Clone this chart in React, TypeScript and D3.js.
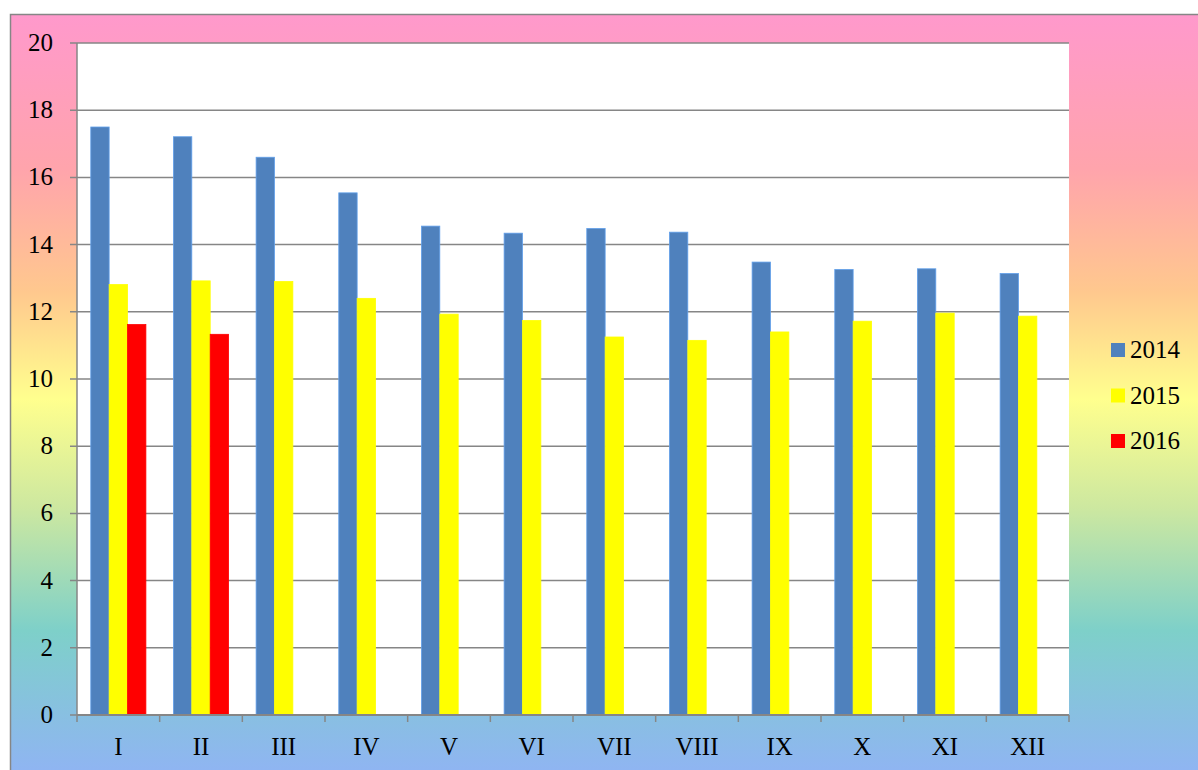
import React from 'react';
import * as d3 from 'd3';

const months = ['I', 'II', 'III', 'IV', 'V', 'VI', 'VII', 'VIII', 'IX', 'X', 'XI', 'XII'];
const years = ['2014', '2015', '2016'];
const values2014 = [17.5, 17.21, 16.6, 15.54, 14.55, 14.34, 14.48, 14.37, 13.48, 13.26, 13.28, 13.14];
const values2015 = [12.81, 12.92, 12.9, 12.4, 11.93, 11.74, 11.25, 11.15, 11.4, 11.72, 11.96, 11.87];
const values2016 = [11.62, 11.33];
const yTicks = [0, 2, 4, 6, 8, 10, 12, 14, 16, 18, 20];
const colors = ['#4F81BD', '#FFFF00', '#FF0000'];

export default function App() {
  const W = 1198, H = 770;
  const plot = { left: 77, top: 43, right: 1069, bottom: 715 };
  const series = [values2014, values2015, values2016];

  const x = d3.scaleBand().domain(months).range([plot.left, plot.right]).paddingInner(0).paddingOuter(0);
  const bw = x.bandwidth();
  const barW = bw / 4.5; // gap width 150%
  const inner = d3.scaleBand().domain(years).range([0.75 * barW, bw - 0.75 * barW]).padding(0);
  const y = d3.scaleLinear().domain([0, 20]).range([plot.bottom, plot.top]);

  const font = '"Times New Roman", "Liberation Serif", serif';
  const grid = '#868686';

  return (
    <div style={{ position: 'absolute', left: 0, top: 0 }}>
      <svg width={W} height={H} style={{ display: 'block' }}>
        <defs>
          <linearGradient id="bg" x1="0" y1="0" x2="0" y2="1">
            <stop offset="0" stopColor="#FF99CC" />
            <stop offset="0.2" stopColor="#FFA4AC" />
            <stop offset="0.36" stopColor="#FFC88E" />
            <stop offset="0.5" stopColor="#FFFF8E" />
            <stop offset="0.64" stopColor="#CDE8A0" />
            <stop offset="0.8" stopColor="#7ED0C9" />
            <stop offset="1" stopColor="#91B2F6" />
          </linearGradient>
        </defs>
        <rect x={10.5} y={14.5} width={W} height={H} fill="url(#bg)" stroke={grid} strokeWidth={1.5} />
        <rect x={plot.left} y={plot.top} width={plot.right - plot.left} height={plot.bottom - plot.top} fill="#FFFFFF" />

        {yTicks.map(t => (
          <g key={t}>
            <line x1={plot.left - 7} x2={plot.right} y1={y(t)} y2={y(t)} stroke={grid} strokeWidth={1.5} />
            <text x={53} y={y(t) + 8} textAnchor="end" fontFamily={font} fontSize={25} fill="#000">{t}</text>
          </g>
        ))}

        {series.map((vals, si) =>
          vals.map((v, i) => (
            <rect
              key={si + '-' + i}
              x={(x(months[i]) as number) + (inner(years[si]) as number)}
              y={y(v)}
              width={inner.bandwidth()}
              height={y(0) - y(v)}
              fill={colors[si]}
              stroke={d3.color(colors[si])!.brighter(0.6).formatHex()}
              strokeWidth={0.8}
            />
          ))
        )}

        <line x1={plot.left} x2={plot.left} y1={plot.top} y2={plot.bottom} stroke={grid} strokeWidth={1.5} />
        <line x1={plot.left} x2={plot.right} y1={plot.bottom} y2={plot.bottom} stroke={grid} strokeWidth={2} />
        {months.concat(['end']).map((m, i) => {
          const xp = plot.left + i * bw;
          return <line key={m} x1={xp} x2={xp} y1={plot.bottom} y2={plot.bottom + 7} stroke={grid} strokeWidth={1.5} />;
        })}
        {months.map(m => (
          <text key={m} x={(x(m) as number) + bw / 2} y={755} textAnchor="middle" fontFamily={font} fontSize={25} fill="#000">{m}</text>
        ))}

        {years.map((yr, i) => (
          <g key={yr} transform={`translate(1111, ${343 + i * 45.5})`}>
            <rect x={0} y={0} width={14} height={14} fill={colors[i]} />
            <text x={19} y={15} fontFamily={font} fontSize={25} fill="#000">{yr}</text>
          </g>
        ))}
      </svg>
    </div>
  );
}
